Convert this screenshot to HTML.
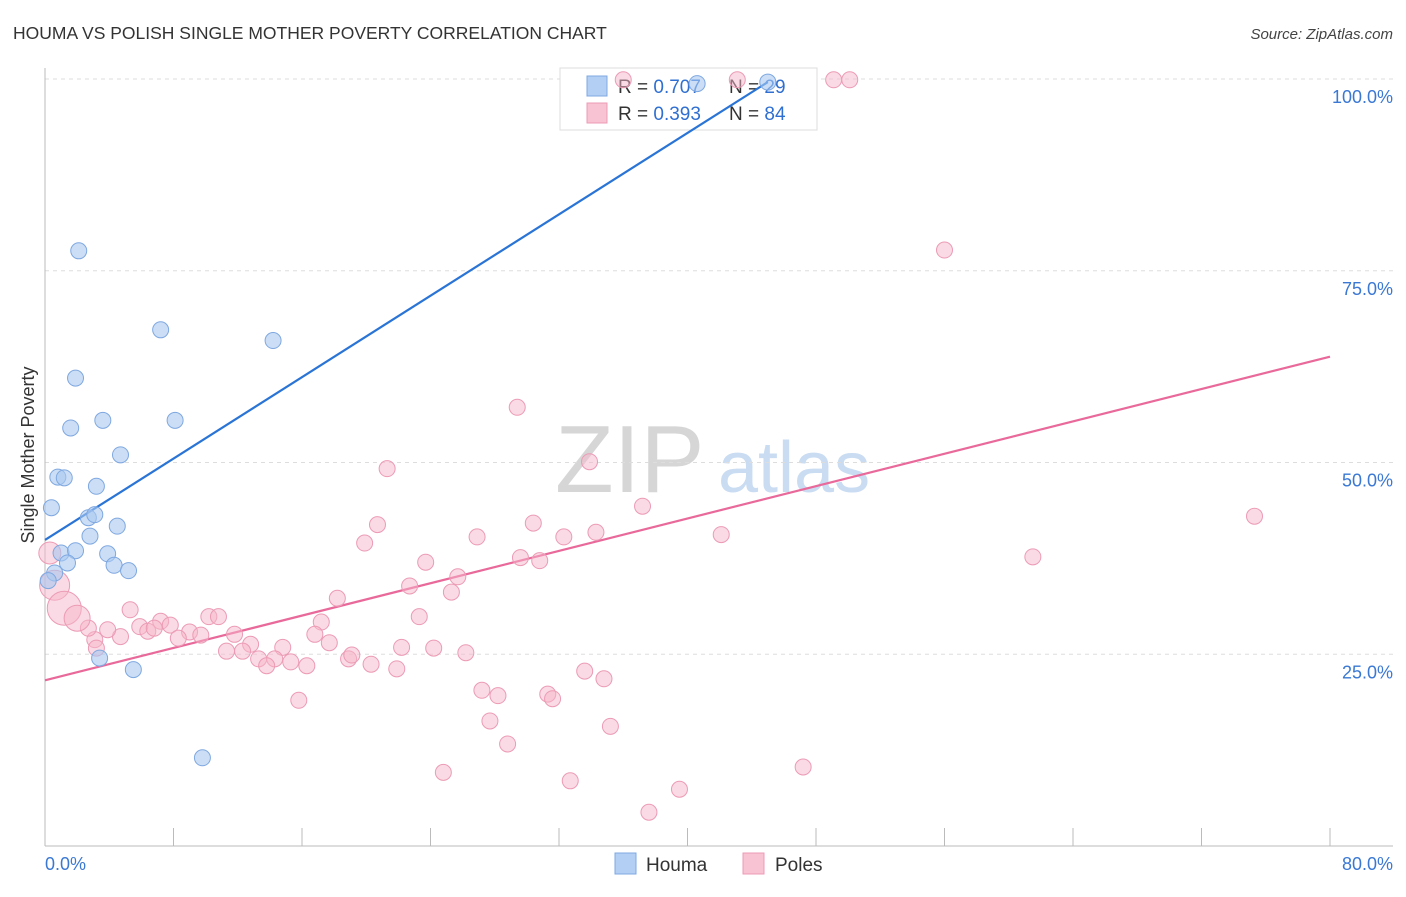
<!DOCTYPE html>
<html><head><meta charset="utf-8"><style>
body{margin:0;background:#fff;font-family:"Liberation Sans",sans-serif;}
svg text{font-family:"Liberation Sans",sans-serif;}
</style></head><body>
<svg id="chart" width="1406" height="892" xmlns="http://www.w3.org/2000/svg">
<text x="13" y="39" font-size="17.5" fill="#333">HOUMA VS POLISH SINGLE MOTHER POVERTY CORRELATION CHART</text>
<text x="1393" y="39" font-size="15" fill="#444" text-anchor="end" font-style="italic">Source: ZipAtlas.com</text>
<g>
<text x="555" y="492" font-size="96" fill="#d6d6d6" font-family="Liberation Serif, serif">ZIP</text>
<text x="718" y="492" font-size="72" fill="#c9dcf2">atlas</text>
</g>
<g id="grid"></g>
<g id="axes"></g>
<g>
<rect x="560" y="68" width="257" height="62" fill="#fff" stroke="#ddd"/>
<rect x="587" y="76" width="20" height="20" fill="#b3cff3" stroke="#7fa8e0"/>
<text x="618" y="93" font-size="19" fill="#333">R = <tspan fill="#2f6fd1">0.707</tspan></text>
<text x="729" y="93" font-size="19" fill="#333">N = <tspan fill="#2f6fd1">29</tspan></text>
<rect x="587" y="103" width="20" height="20" fill="#f8c3d3" stroke="#ec9bb5"/>
<text x="618" y="120" font-size="19" fill="#333">R = <tspan fill="#2f6fd1">0.393</tspan></text>
<text x="729" y="120" font-size="19" fill="#333">N = <tspan fill="#2f6fd1">84</tspan></text>
</g>
<g id="lines"></g>
<g id="points"></g>
<text transform="translate(34,455) rotate(-90)" font-size="18" fill="#333" text-anchor="middle">Single Mother Poverty</text>
<g>
<rect x="615" y="853" width="21" height="21" fill="#b3cff3" stroke="#7fa8e0"/>
<text x="646" y="871" font-size="19" fill="#333">Houma</text>
<rect x="743" y="853" width="21" height="21" fill="#f8c3d3" stroke="#ec9bb5"/>
<text x="775" y="871" font-size="19" fill="#333">Poles</text>
</g>
</svg>
<script>
const houmaX=[2.1,7.2,14.2,1.9,3.6,8.1,1.6,4.7,0.8,1.2,3.2,0.4,2.7,3.1,4.5,2.8,1.0,1.9,3.9,1.4,4.3,5.2,0.6,0.2,3.4,5.5,9.8,40.6,45.0];
const houmaY=[77.6,67.3,65.9,61.0,55.5,55.5,54.5,51.0,48.1,48.0,46.9,44.1,42.8,43.2,41.7,40.4,38.2,38.5,38.1,36.9,36.6,35.9,35.6,34.6,24.5,23.0,11.5,99.4,99.6];
const polesX=[49.1,50.1,36.0,43.1,56.0,29.4,21.3,33.9,37.2,75.3,20.7,30.4,26.9,19.9,34.3,32.3,42.1,61.5,29.6,30.8,23.7,25.7,22.7,25.3,18.2,5.3,23.3,17.2,10.2,10.8,7.2,5.9,6.4,7.8,9.0,9.7,8.3,3.1,4.7,16.8,11.8,17.7,12.8,11.3,12.3,14.8,22.2,24.2,13.3,14.3,13.8,15.3,16.3,18.9,19.1,20.3,21.9,26.2,33.6,34.8,27.2,28.2,31.3,31.6,15.8,27.7,35.2,28.8,24.8,32.7,47.2,39.5,37.6,3.9,2.7,6.8,3.2,0.6,1.2,2.0,0.3];
const polesY=[99.9,99.9,99.9,99.9,77.7,57.2,49.2,50.1,44.3,43.0,41.9,42.1,40.3,39.5,40.9,40.3,40.6,37.7,37.6,37.2,37.0,35.1,33.9,33.1,32.3,30.8,29.9,29.2,29.9,29.9,29.3,28.6,28.0,28.8,27.9,27.5,27.1,26.9,27.3,27.6,27.6,26.5,26.3,25.4,25.4,25.9,25.9,25.8,24.4,24.4,23.5,24.0,23.5,24.4,24.9,23.7,23.1,25.2,22.8,21.8,20.3,19.6,19.8,19.2,19.0,16.3,15.6,13.3,9.6,8.5,10.3,7.4,4.4,28.2,28.4,28.4,25.8,34.0,31.0,29.7,38.2];
const polesR=[8,8,8,8,8,8,8,8,8,8,8,8,8,8,8,8,8,8,8,8,8,8,8,8,8,8,8,8,8,8,8,8,8,8,8,8,8,8,8,8,8,8,8,8,8,8,8,8,8,8,8,8,8,8,8,8,8,8,8,8,8,8,8,8,8,8,8,8,8,8,8,8,8,8,8,8,8,15,17,13,11];
const yTicks=[25,50,75,100];
const yTickLabels=["25.0%","50.0%","75.0%","100.0%"];
const xTicks=[0,8,16,24,32,40,48,56,64,72,80];
const houmaTrend=[[0,39.9],[45,99.6]];
const polesTrend=[[0,21.6],[80,63.8]];
const NS="http://www.w3.org/2000/svg";
const X0=45,X1=1330,Y0=846,Y1=79;
function sx(v){return X0+(v/80)*(X1-X0);}
function sy(v){return Y0-(v/100)*(Y0-Y1);}
function mk(tag,attrs,parent){const e=document.createElementNS(NS,tag);for(const k in attrs)e.setAttribute(k,attrs[k]);parent.appendChild(e);return e;}
const grid=document.getElementById('grid'),axes=document.getElementById('axes'),lines=document.getElementById('lines'),pts=document.getElementById('points');
yTicks.forEach((t,i)=>{
  const l=mk('line',{x1:X0,x2:1393,y1:sy(t),y2:sy(t),stroke:'#ddd','stroke-dasharray':'4,4'},grid);
  
  
  const tx=mk('text',{x:1393,y:sy(t)+24,'font-size':18,fill:'#3a78d4','text-anchor':'end'},axes);
  tx.textContent=yTickLabels[i];
  
  
});
const ax=mk('line',{x1:X0,x2:1393,y1:Y0,y2:Y0,stroke:'#bbb'},axes);


const ay=mk('line',{x1:X0,x2:X0,y1:68,y2:Y0,stroke:'#bbb'},axes);


xTicks.forEach(t=>{
  const l=mk('line',{x1:sx(t),x2:sx(t),y1:828,y2:Y0,stroke:'#bbb'},axes);
  
  
});
const xl0=mk('text',{x:45,y:870,'font-size':18,fill:'#3a78d4'},axes);xl0.textContent='0.0%';


const xl1=mk('text',{x:1393,y:870,'font-size':18,fill:'#3a78d4','text-anchor':'end'},axes);xl1.textContent='80.0%';


polesX.forEach((v,i)=>{
  const c=mk('circle',{cx:sx(v),cy:sy(polesY[i]),r:polesR[i],fill:'#f6b6ca','fill-opacity':0.5,stroke:'#ec9bb5','stroke-width':1},pts);
  
  
});
houmaX.forEach((v,i)=>{
  const c=mk('circle',{cx:sx(v),cy:sy(houmaY[i]),r:8,fill:'#a9c8f0','fill-opacity':0.6,stroke:'#7fa8e0','stroke-width':1},pts);
  
  
});
const hl=mk('line',{x1:sx(houmaTrend[0][0]),y1:sy(houmaTrend[0][1]),x2:sx(houmaTrend[1][0]),y2:sy(houmaTrend[1][1]),stroke:'#2a74d6','stroke-width':2.2},lines);


const pl=mk('line',{x1:sx(polesTrend[0][0]),y1:sy(polesTrend[0][1]),x2:sx(polesTrend[1][0]),y2:sy(polesTrend[1][1]),stroke:'#e8699a','stroke-width':2.2},lines);


</script>
</body></html>
